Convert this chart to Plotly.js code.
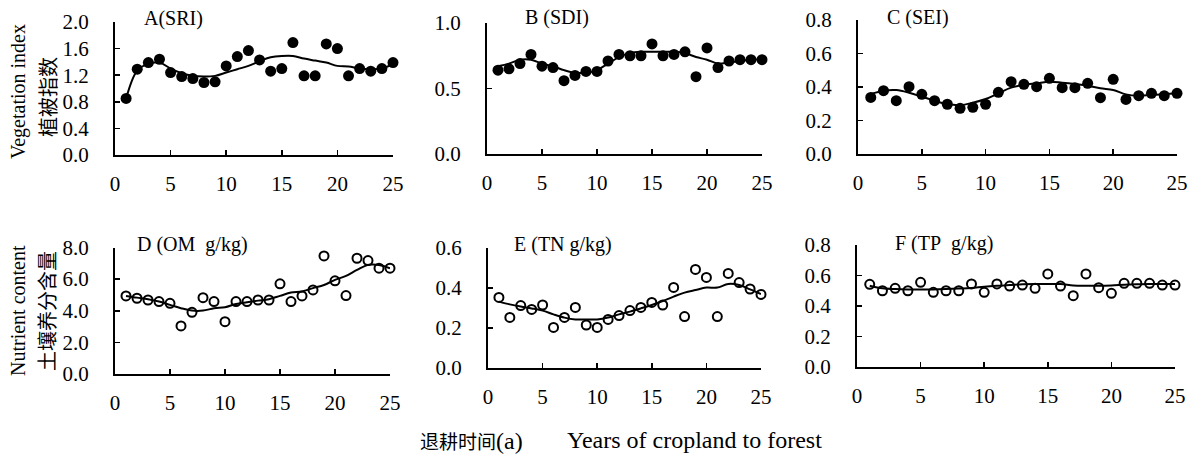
<!DOCTYPE html>
<html><head><meta charset="utf-8">
<script src="https://cdn.plot.ly/plotly-3.0.1.min.js"></script>
<style>body{margin:0;background:#fff}#chart{width:1196px;height:462px}</style>
</head><body><div id="chart"></div>
<script>
const years = [1,2,3,4,5,6,7,8,9,10,11,12,13,14,15,16,17,18,19,20,21,22,23,24,25];
const xTicks = [0,5,10,15,20,25];

const sriPts = [0.85,1.29,1.39,1.44,1.24,1.18,1.15,1.09,1.10,1.34,1.48,1.57,1.43,1.26,1.30,1.69,1.19,1.19,1.67,1.60,1.19,1.30,1.26,1.30,1.39];
const sriFit = [0.85,1.27,1.37,1.39,1.30,1.23,1.19,1.18,1.19,1.24,1.29,1.34,1.41,1.47,1.49,1.49,1.45,1.42,1.39,1.34,1.33,1.30,1.29,1.30,1.37];

const sdiPts = [0.64,0.65,0.69,0.76,0.67,0.66,0.56,0.60,0.63,0.63,0.71,0.76,0.75,0.75,0.84,0.75,0.76,0.78,0.59,0.81,0.66,0.71,0.72,0.72,0.72];
const sdiFit = [0.67,0.69,0.72,0.72,0.69,0.67,0.64,0.62,0.62,0.64,0.69,0.74,0.77,0.78,0.78,0.78,0.78,0.77,0.74,0.72,0.69,0.70,0.71,0.72,0.72];

const seiPts = [0.338,0.378,0.318,0.402,0.356,0.318,0.297,0.273,0.279,0.297,0.368,0.432,0.416,0.402,0.452,0.396,0.396,0.422,0.336,0.446,0.326,0.348,0.362,0.348,0.362];
const seiFit = [0.358,0.378,0.382,0.366,0.342,0.318,0.298,0.292,0.306,0.328,0.362,0.396,0.412,0.422,0.432,0.426,0.418,0.408,0.392,0.382,0.356,0.348,0.352,0.356,0.362];

const omPts = [4.94,4.79,4.68,4.58,4.47,3.04,3.90,4.83,4.58,3.31,4.58,4.58,4.68,4.68,5.70,4.58,4.94,5.32,7.47,5.89,4.96,7.32,7.17,6.69,6.69];
const omFit = [4.94,4.83,4.73,4.58,4.37,4.16,4.01,4.01,4.16,4.22,4.43,4.54,4.64,4.73,4.94,5.15,5.22,5.43,5.63,5.95,6.20,6.58,6.90,6.90,6.69];

const tnPts = [0.353,0.253,0.312,0.293,0.315,0.203,0.253,0.303,0.215,0.203,0.243,0.262,0.287,0.303,0.328,0.315,0.403,0.257,0.493,0.453,0.257,0.473,0.427,0.395,0.368];
const tnFit = [0.332,0.318,0.307,0.298,0.287,0.268,0.252,0.243,0.243,0.243,0.252,0.268,0.282,0.298,0.315,0.335,0.357,0.377,0.390,0.402,0.402,0.420,0.415,0.393,0.370];

const tpPts = [0.542,0.500,0.516,0.500,0.555,0.490,0.500,0.500,0.545,0.490,0.545,0.531,0.537,0.516,0.610,0.531,0.468,0.610,0.520,0.483,0.549,0.549,0.549,0.537,0.537];
const tpFit = [0.533,0.516,0.511,0.509,0.509,0.509,0.511,0.514,0.518,0.527,0.533,0.537,0.542,0.544,0.544,0.544,0.535,0.533,0.533,0.535,0.539,0.542,0.544,0.544,0.544];

const panelTitles = ['A(SRI)','B (SDI)','C (SEI)','D (OM\u00a0\u00a0g/kg)','E (TN g/kg)','F (TP\u00a0\u00a0g/kg)'];
const yTicksA = [0,0.4,0.8,1.2,1.6,2.0];
const yTicksB = [0,0.5,1.0];
const yTicksC = [0,0.2,0.4,0.6,0.8];
const yTicksD = [0,2,4,6,8];
const yTicksE = [0,0.2,0.4,0.6];
const yTicksF = [0,0.2,0.4,0.6,0.8];

const W = 1196, H = 462;
const serif = 'Liberation Serif, Times New Roman, serif';
const cjk = 'Noto Sans CJK SC';

// pixel boxes [left, right, top, bottom]
const boxes = [
  [115,393,22,155],[487,762,23,154],[858,1177,20,154],
  [115,390,247.5,374],[488,761,248,368],[857,1175,245,367]
];
const pts = [sriPts,sdiPts,seiPts,omPts,tnPts,tpPts];
const fits = [sriFit,sdiFit,seiFit,omFit,tnFit,tpFit];
const yRanges = [[0,2],[0,1],[0,0.8],[0,8],[0,0.6],[0,0.8]];
const yTicks = [yTicksA,yTicksB,yTicksC,yTicksD,yTicksE,yTicksF];

const data = [];
const layout = {
  width: W, height: H, margin:{l:0,r:0,t:0,b:0},
  paper_bgcolor:'#fff', plot_bgcolor:'#fff', showlegend:false,
  font:{family:serif, color:'#000', size:20},
  annotations:[]
};

for (let i=0;i<6;i++){
  const n = i===0?'':String(i+1);
  const b = boxes[i];
  const open = i>=3;
  data.push({
    x: years, y: pts[i], xaxis:'x'+n, yaxis:'y'+n, type:'scatter', mode:'markers',
    cliponaxis:false,
    marker: open ? {symbol:'circle-open', size:9, color:'#000', line:{width:2,color:'#000'}}
                 : {symbol:'circle', size:11, color:'#000'}
  });
  data.push({
    x: years, y: fits[i], xaxis:'x'+n, yaxis:'y'+n, type:'scatter', mode:'lines',
    line:{color:'#000', width:2, shape:'spline', smoothing:1}
  });
  const common = {showline:true, linecolor:'#000', linewidth:2, ticks:'inside', ticklen:5,
    tickwidth:1.5, tickcolor:'#000', showgrid:false, zeroline:false, fixedrange:true,
    tickfont:{family:serif, size:21, color:'#000'}};
  layout['xaxis'+n] = Object.assign({}, common, {
    domain:[b[0]/W, b[1]/W], anchor:'y'+n, range:[0,25],
    tickmode:'array', tickvals:xTicks, ticktext:xTicks.map(String), ticklabelstandoff:9
  });
  layout['yaxis'+n] = Object.assign({}, common, {
    domain:[1-b[3]/H, 1-b[2]/H], anchor:'x'+n, range:yRanges[i],
    tickmode:'array', tickvals:yTicks[i], ticktext:yTicks[i].map(v=>v.toFixed(1)), ticklabelstandoff:20
  });
}

const titlePos = [[142,18],[523,17],[885,17],[135,244],[512,244],[893,243]];
for (let i=0;i<6;i++){
  layout.annotations.push({xref:'paper', yref:'paper', x:titlePos[i][0]/W, y:1-titlePos[i][1]/H,
    xanchor:'left', yanchor:'middle', showarrow:false, text:panelTitles[i],
    font:{family:serif, size:20, color:'#000'}});
}
// y axis titles
layout.annotations.push({xref:'paper', yref:'paper', x:18/W, y:1-92/H, textangle:-90, showarrow:false,
  xanchor:'center', yanchor:'middle', text:'Vegetation index', font:{family:serif,size:20,color:'#000'}});
layout.annotations.push({xref:'paper', yref:'paper', x:48/W, y:1-97/H, textangle:-90, showarrow:false,
  xanchor:'center', yanchor:'middle', text:'植被指数', font:{family:cjk,size:20,color:'#000'}});
layout.annotations.push({xref:'paper', yref:'paper', x:18/W, y:1-311/H, textangle:-90, showarrow:false,
  xanchor:'center', yanchor:'middle', text:'Nutrient content', font:{family:serif,size:20,color:'#000'}});
layout.annotations.push({xref:'paper', yref:'paper', x:46/W, y:1-311/H, textangle:-90, showarrow:false,
  xanchor:'center', yanchor:'middle', text:'土壤养分含量', font:{family:cjk,size:20,color:'#000'}});
// x title
layout.annotations.push({xref:'paper', yref:'paper', x:418/W, y:1-440/H, showarrow:false,
  xanchor:'left', yanchor:'middle', text:'<span style="font-family:Noto Sans CJK SC;font-size:19px">退耕时间</span>(a)',
  font:{family:serif,size:24,color:'#000'}});
layout.annotations.push({xref:'paper', yref:'paper', x:565/W, y:1-440/H, showarrow:false,
  xanchor:'left', yanchor:'middle', text:'Years of cropland to forest',
  font:{family:serif,size:24,color:'#000'}});

Plotly.newPlot('chart', data, layout, {displayModeBar:false, staticPlot:true});
</script></body></html>
